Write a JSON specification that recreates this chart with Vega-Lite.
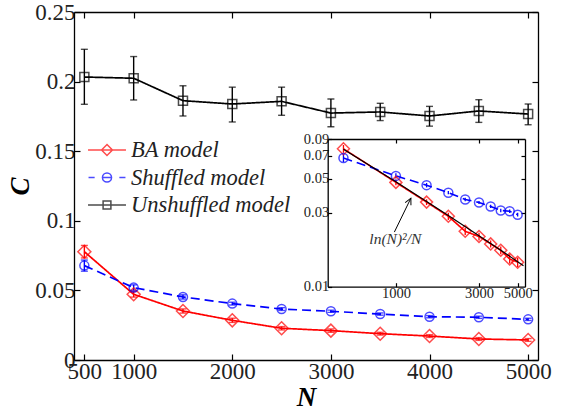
{
  "$schema": "https://vega.github.io/schema/vega-lite/v6.json",
  "width": 464,
  "height": 348,
  "autosize": "none",
  "padding": {"left": 74, "top": 12, "right": 24, "bottom": 52},
  "background": "white",
  "config": {
    "view": {"stroke": null},
    "axis": {
      "domainColor": "black", "domainWidth": 1.3, "tickColor": "black", "tickWidth": 1.2,
      "labelColor": "#222", "grid": false, "labelFont": "Liberation Serif", "titleFont": "Liberation Serif",
      "titleColor": "black", "labelFlush": false, "labelOverlap": false
    }
  },
  "datasets": {
    "main": [
      {"model": "BA model", "N": 500, "C": 0.0778, "lo": 0.0733, "hi": 0.0823},
      {"model": "BA model", "N": 1000, "C": 0.0472, "lo": 0.0452, "hi": 0.0492},
      {"model": "BA model", "N": 1500, "C": 0.0352, "lo": 0.0337, "hi": 0.0367},
      {"model": "BA model", "N": 2000, "C": 0.0285, "lo": 0.0270, "hi": 0.0300},
      {"model": "BA model", "N": 2500, "C": 0.0228, "lo": 0.0216, "hi": 0.0240},
      {"model": "BA model", "N": 3000, "C": 0.0211, "lo": 0.0199, "hi": 0.0223},
      {"model": "BA model", "N": 3500, "C": 0.0189, "lo": 0.0179, "hi": 0.0199},
      {"model": "BA model", "N": 4000, "C": 0.0172, "lo": 0.0162, "hi": 0.0182},
      {"model": "BA model", "N": 4500, "C": 0.0151, "lo": 0.0141, "hi": 0.0161},
      {"model": "BA model", "N": 5000, "C": 0.0144, "lo": 0.0134, "hi": 0.0154},
      {"model": "Shuffled model", "N": 500, "C": 0.0678, "lo": 0.0638, "hi": 0.0718},
      {"model": "Shuffled model", "N": 1000, "C": 0.0520, "lo": 0.0500, "hi": 0.0540},
      {"model": "Shuffled model", "N": 1500, "C": 0.0453, "lo": 0.0438, "hi": 0.0468},
      {"model": "Shuffled model", "N": 2000, "C": 0.0405, "lo": 0.0395, "hi": 0.0415},
      {"model": "Shuffled model", "N": 2500, "C": 0.0366, "lo": 0.0356, "hi": 0.0376},
      {"model": "Shuffled model", "N": 3000, "C": 0.0350, "lo": 0.0342, "hi": 0.0358},
      {"model": "Shuffled model", "N": 3500, "C": 0.0330, "lo": 0.0322, "hi": 0.0338},
      {"model": "Shuffled model", "N": 4000, "C": 0.0311, "lo": 0.0303, "hi": 0.0319},
      {"model": "Shuffled model", "N": 4500, "C": 0.0307, "lo": 0.0299, "hi": 0.0315},
      {"model": "Shuffled model", "N": 5000, "C": 0.0292, "lo": 0.0284, "hi": 0.0300},
      {"model": "Unshuffled model", "N": 500, "C": 0.2033, "lo": 0.1837, "hi": 0.2232},
      {"model": "Unshuffled model", "N": 1000, "C": 0.2024, "lo": 0.1868, "hi": 0.2180},
      {"model": "Unshuffled model", "N": 1500, "C": 0.1863, "lo": 0.1753, "hi": 0.1970},
      {"model": "Unshuffled model", "N": 2000, "C": 0.1839, "lo": 0.1710, "hi": 0.1960},
      {"model": "Unshuffled model", "N": 2500, "C": 0.1858, "lo": 0.1758, "hi": 0.1960},
      {"model": "Unshuffled model", "N": 3000, "C": 0.1774, "lo": 0.1676, "hi": 0.1875},
      {"model": "Unshuffled model", "N": 3500, "C": 0.1782, "lo": 0.1720, "hi": 0.1844},
      {"model": "Unshuffled model", "N": 4000, "C": 0.1753, "lo": 0.1680, "hi": 0.1822},
      {"model": "Unshuffled model", "N": 4500, "C": 0.1789, "lo": 0.1707, "hi": 0.1870},
      {"model": "Unshuffled model", "N": 5000, "C": 0.1767, "lo": 0.1690, "hi": 0.1839}
    ],
    "theory": [
      {"N": 500, "C": 0.07724},
      {"N": 1000, "C": 0.04772},
      {"N": 2000, "C": 0.02889},
      {"N": 3000, "C": 0.02137},
      {"N": 4000, "C": 0.01720},
      {"N": 5000, "C": 0.01451},
      {"N": 5400, "C": 0.01368}
    ],
    "arrow": [
      {"N": 980, "C": 0.02254, "N2": 1219, "C2": 0.0373}
    ],
    "note": [
      {"N": 993, "C": 0.0203, "label": "ln(N)²/N"}
    ]
  },
  "layer": [
    {
      "data": {"name": "main"},
      "layer": [
        {
          "mark": {"type": "line", "strokeWidth": 1.7},
          "encoding": {
            "x": {"field": "N", "type": "quantitative", "scale": {"domain": [395, 5100], "nice": false, "zero": false},
              "axis": {"orient": "bottom", "values": [500, 1000, 2000, 3000, 4000, 5000], "format": "d", "title": "N",
                "tickSize": -6, "labelPadding": 6, "labelFontSize": 23, "titleFontSize": 27, "titleFontStyle": "italic", "titleFontWeight": "bold", "titlePadding": 1}},
            "y": {"field": "C", "type": "quantitative", "scale": {"domain": [0, 0.25], "nice": false, "zero": false},
              "axis": {"orient": "left", "values": [0, 0.05, 0.1, 0.15, 0.2, 0.25], "format": ".2~f", "title": "C",
                "tickSize": -6, "labelPadding": 5, "labelFontSize": 23, "titleFontSize": 27, "titleFontStyle": "italic", "titleFontWeight": "bold", "titlePadding": 0}},
            "stroke": {"field": "model", "type": "nominal", "scale": {"range": ["#ff0000", "#0000ff", "#000000"]}, "legend": null},
            "strokeDash": {"field": "model", "type": "nominal", "scale": {"range": [[1, 0], [9, 5], [1, 0]]}, "legend": null}
          }
        },
        {
          "mark": {"type": "rule", "strokeWidth": 1.4},
          "encoding": {
            "x": {"field": "N", "type": "quantitative", "scale": {"domain": [395, 5100], "nice": false, "zero": false}, "axis": null},
            "y": {"field": "lo", "type": "quantitative", "scale": {"domain": [0, 0.25], "nice": false, "zero": false}, "axis": null},
            "y2": {"field": "hi"},
            "stroke": {"field": "model", "type": "nominal", "legend": null}
          }
        },
        {
          "mark": {"type": "tick", "orient": "horizontal", "size": 7, "thickness": 1.4},
          "encoding": {
            "x": {"field": "N", "type": "quantitative", "scale": {"domain": [395, 5100], "nice": false, "zero": false}, "axis": null},
            "y": {"field": "lo", "type": "quantitative", "scale": {"domain": [0, 0.25], "nice": false, "zero": false}, "axis": null},
            "fill": {"field": "model", "type": "nominal", "scale": {"range": ["#ff0000", "#0000ff", "#000000"]}, "legend": null}
          }
        },
        {
          "mark": {"type": "tick", "orient": "horizontal", "size": 7, "thickness": 1.4},
          "encoding": {
            "x": {"field": "N", "type": "quantitative", "scale": {"domain": [395, 5100], "nice": false, "zero": false}, "axis": null},
            "y": {"field": "hi", "type": "quantitative", "scale": {"domain": [0, 0.25], "nice": false, "zero": false}, "axis": null},
            "fill": {"field": "model", "type": "nominal", "legend": null}
          }
        },
        {
          "transform": [{"filter": "datum.model === 'BA model'"}],
          "mark": {"type": "point", "filled": false, "strokeWidth": 1.5, "shape": "diamond", "color": "#ff0000", "size": 169},
          "encoding": {
            "x": {"field": "N", "type": "quantitative", "scale": {"domain": [395, 5100], "nice": false, "zero": false},
              "axis": {"orient": "top", "values": [500, 1000, 2000, 3000, 4000, 5000], "labels": false, "title": null, "tickSize": -6}},
            "y": {"field": "C", "type": "quantitative", "scale": {"domain": [0, 0.25], "nice": false, "zero": false},
              "axis": {"orient": "right", "values": [0, 0.05, 0.1, 0.15, 0.2, 0.25], "labels": false, "title": null, "tickSize": -6}}
          }
        },
        {
          "transform": [{"filter": "datum.model === 'Shuffled model'"}],
          "mark": {"type": "point", "filled": false, "strokeWidth": 1.5, "shape": "circle", "color": "#0000ff", "size": 81},
          "encoding": {
            "x": {"field": "N", "type": "quantitative", "scale": {"domain": [395, 5100], "nice": false, "zero": false}, "axis": null},
            "y": {"field": "C", "type": "quantitative", "scale": {"domain": [0, 0.25], "nice": false, "zero": false}, "axis": null}
          }
        },
        {
          "transform": [{"filter": "datum.model === 'Unshuffled model'"}],
          "mark": {"type": "point", "filled": false, "strokeWidth": 1.5, "shape": "square", "color": "#000000", "size": 81},
          "encoding": {
            "x": {"field": "N", "type": "quantitative", "scale": {"domain": [395, 5100], "nice": false, "zero": false}, "axis": null},
            "y": {"field": "C", "type": "quantitative", "scale": {"domain": [0, 0.25], "nice": false, "zero": false}, "axis": null}
          }
        },
        {
          "transform": [{"filter": "datum.model === 'legend only'"}],
          "mark": {"type": "point", "filled": false, "strokeWidth": 1.5, "size": 676},
          "encoding": {
            "x": {"field": "N", "type": "quantitative", "scale": {"domain": [395, 5100], "nice": false, "zero": false}, "axis": null},
            "y": {"field": "C", "type": "quantitative", "scale": {"domain": [0, 0.25], "nice": false, "zero": false}, "axis": null},
            "color": {"field": "model", "type": "nominal",
              "scale": {"domain": ["BA model", "Shuffled model", "Unshuffled model"], "range": ["#ff0000", "#0000ff", "#000000"]},
              "legend": {
                "orient": "none", "legendX": 19, "legendY": 124, "title": null, "padding": 0,
                "symbolSize": 676, "labelFont": "Liberation Serif", "labelFontStyle": "italic", "labelFontSize": 22.5,
                "labelColor": "#222", "labelOffset": 10, "rowPadding": 1.5, "symbolStrokeWidth": 1.5
              }},
            "shape": {"field": "model", "type": "nominal",
              "scale": {"domain": ["BA model", "Shuffled model", "Unshuffled model"],
                "range": ["M-1.46,0H1.46M-0.42,0L0,-0.42L0.42,0L0,0.42Z", "M-1.42,0H-0.95M0.95,0H1.42M-0.35,0H0.35M-0.35,0A0.35,0.35,0,1,0,0.35,0A0.35,0.35,0,1,0,-0.35,0", "M-1.46,0H1.46M-0.3,-0.3H0.3V0.3H-0.3Z"]},
              "legend": {
                "orient": "none", "legendX": 19, "legendY": 124, "title": null, "padding": 0,
                "symbolSize": 676, "labelFont": "Liberation Serif", "labelFontStyle": "italic", "labelFontSize": 22.5,
                "labelColor": "#222", "labelOffset": 10, "rowPadding": 1.5, "symbolStrokeWidth": 1.5
              }}
          }
        }
      ],
      "resolve": {"axis": {"x": "independent", "y": "independent"}}
    },
    {
      "layer": [
        {
          "data": {"name": "main"},
          "transform": [{"filter": "datum.model !== 'Unshuffled model'"}],
          "layer": [
            {
              "mark": {"type": "line", "strokeWidth": 1.6},
              "encoding": {
                "x": {"field": "N", "type": "quantitative", "scale": {"type": "log", "domain": [406, 5510], "range": [253.7, 451], "nice": false},
                  "axis": {"orient": "bottom", "offset": -73.3, "values": [1000, 3000, 5000], "format": "d", "title": null, "tickSize": -4, "labelPadding": 4, "labelFontSize": 14.5}},
                "y": {"field": "C", "type": "quantitative", "scale": {"type": "log", "domain": [0.01, 0.09], "range": [274.7, 127], "nice": false},
                  "axis": {"orient": "left", "offset": -253.7, "values": [0.01, 0.03, 0.05, 0.07, 0.09], "format": ".2f", "title": null, "tickSize": -4, "labelPadding": 3, "labelFontSize": 14.5}},
                "stroke": {"field": "model", "type": "nominal", "legend": null},
                "strokeDash": {"field": "model", "type": "nominal", "legend": null}
              }
            },
            {
              "mark": {"type": "rule", "strokeWidth": 1.3},
              "encoding": {
                "x": {"field": "N", "type": "quantitative", "scale": {"type": "log", "domain": [406, 5510], "range": [253.7, 451], "nice": false}, "axis": null},
                "y": {"field": "lo", "type": "quantitative", "scale": {"type": "log", "domain": [0.01, 0.09], "range": [274.7, 127], "nice": false}, "axis": null},
                "y2": {"field": "hi"},
                "stroke": {"field": "model", "type": "nominal", "legend": null}
              }
            },
            {
              "transform": [{"filter": "datum.model === 'BA model'"}],
              "mark": {"type": "point", "filled": false, "strokeWidth": 1.5, "shape": "diamond", "color": "#ff0000", "size": 144},
              "encoding": {
                "x": {"field": "N", "type": "quantitative", "scale": {"type": "log", "domain": [406, 5510], "range": [253.7, 451], "nice": false},
                  "axis": {"orient": "top", "offset": -127, "values": [1000, 3000, 5000], "labels": false, "title": null, "tickSize": -4}},
                "y": {"field": "C", "type": "quantitative", "scale": {"type": "log", "domain": [0.01, 0.09], "range": [274.7, 127], "nice": false},
                  "axis": {"orient": "right", "offset": -13, "values": [0.03, 0.05, 0.07], "labels": false, "title": null, "tickSize": -4}}
              }
            },
            {
              "transform": [{"filter": "datum.model === 'Shuffled model'"}],
              "mark": {"type": "point", "filled": false, "strokeWidth": 1.5, "shape": "circle", "color": "#0000ff", "size": 81},
              "encoding": {
                "x": {"field": "N", "type": "quantitative", "scale": {"type": "log", "domain": [406, 5510], "range": [253.7, 451], "nice": false}, "axis": null},
                "y": {"field": "C", "type": "quantitative", "scale": {"type": "log", "domain": [0.01, 0.09], "range": [274.7, 127], "nice": false}, "axis": null}
              }
            }
          ],
          "resolve": {"axis": {"x": "independent", "y": "independent"}}
        },
        {
          "data": {"name": "theory"},
          "mark": {"type": "line", "color": "black", "strokeWidth": 1.2},
          "encoding": {
            "x": {"field": "N", "type": "quantitative", "scale": {"type": "log", "domain": [406, 5510], "range": [253.7, 451], "nice": false}, "axis": null},
            "y": {"field": "C", "type": "quantitative", "scale": {"type": "log", "domain": [0.01, 0.09], "range": [274.7, 127], "nice": false}, "axis": null}
          }
        },
        {
          "data": {"name": "arrow"},
          "mark": {"type": "rule", "color": "black", "strokeWidth": 1},
          "encoding": {
            "x": {"field": "N", "type": "quantitative", "scale": {"type": "log", "domain": [406, 5510], "range": [253.7, 451], "nice": false}, "axis": null},
            "y": {"field": "C", "type": "quantitative", "scale": {"type": "log", "domain": [0.01, 0.09], "range": [274.7, 127], "nice": false}, "axis": null},
            "x2": {"field": "N2"},
            "y2": {"field": "C2"}
          }
        },
        {
          "data": {"name": "arrow"},
          "mark": {"type": "point", "shape": "M-0.5,1L0,0L0.5,1", "filled": false, "color": "black", "strokeWidth": 1, "size": 164, "angle": 26, "opacity": 1},
          "encoding": {
            "x": {"field": "N2", "type": "quantitative", "scale": {"type": "log", "domain": [406, 5510], "range": [253.7, 451], "nice": false}, "axis": null},
            "y": {"field": "C2", "type": "quantitative", "scale": {"type": "log", "domain": [0.01, 0.09], "range": [274.7, 127], "nice": false}, "axis": null}
          }
        },
        {
          "data": {"name": "note"},
          "mark": {"type": "text", "font": "Liberation Serif", "fontStyle": "italic", "fontSize": 15.5, "color": "#333", "align": "center", "baseline": "middle"},
          "encoding": {
            "x": {"field": "N", "type": "quantitative", "scale": {"type": "log", "domain": [406, 5510], "range": [253.7, 451], "nice": false}, "axis": null},
            "y": {"field": "C", "type": "quantitative", "scale": {"type": "log", "domain": [0.01, 0.09], "range": [274.7, 127], "nice": false}, "axis": null},
            "text": {"field": "label"}
          }
        }
      ],
      "resolve": {"axis": {"x": "independent", "y": "independent"}}
    }
  ],
  "resolve": {"scale": {"x": "independent", "y": "independent"}}
}
